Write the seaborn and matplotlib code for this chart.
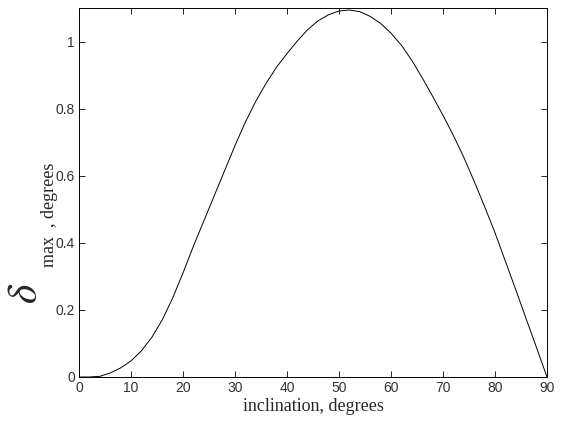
import numpy as np
import pandas as pd
import seaborn as sns
import matplotlib
matplotlib.use("Agg")
import matplotlib.pyplot as plt

# values
inclination = [0, 2, 4, 6, 8, 10, 12, 14, 16, 18, 20, 22, 24, 26, 28, 30,
               32, 34, 36, 38, 40, 42, 44, 46, 48, 50, 52, 54, 56, 58, 60,
               62, 64, 66, 68, 70, 72, 74, 76, 78, 80, 82, 84, 86, 88, 90]
delta_max = [0.0, 0.0, 0.002, 0.012, 0.027, 0.048, 0.078, 0.118, 0.17, 0.235,
             0.31, 0.39, 0.465, 0.54, 0.615, 0.69, 0.76, 0.822, 0.876, 0.924,
             0.964, 1.002, 1.036, 1.062, 1.08, 1.091, 1.094, 1.089, 1.075, 1.054,
             1.025, 0.989, 0.944, 0.892, 0.837, 0.78, 0.72, 0.655, 0.583, 0.508,
             0.43, 0.345, 0.26, 0.173, 0.087, 0.0]

xticks = [0, 10, 20, 30, 40, 50, 60, 70, 80, 90]
yticks = [0, 0.2, 0.4, 0.6, 0.8, 1.0]
ytick_labels = ["0", "0.2", "0.4", "0.6", "0.8", "1"]

df = pd.DataFrame({"inclination": inclination, "delta": delta_max})

sns.set_style("ticks")
plt.rcParams["mathtext.fontset"] = "stix"

fig = plt.figure(figsize=(5.62, 4.24), dpi=100)
ax = fig.add_axes([79 / 562, 1 - 377 / 424, 468 / 562, 369 / 424])

sns.lineplot(data=df, x="inclination", y="delta", color="black",
             linewidth=0.7, ax=ax)

ax.set_xlim(0, 90)
ax.set_ylim(0, 1.1)
ax.set_xticks(xticks)
ax.set_yticks(yticks)
ax.set_yticklabels(ytick_labels)
ax.tick_params(direction="in", length=4, width=0.6, top=True, right=True,
               labelsize=10, pad=3, colors="black")
for lab in ax.get_xticklabels() + ax.get_yticklabels():
    lab.set_family("Liberation Sans")
    lab.set_color("#333333")
for sp in ax.spines.values():
    sp.set_linewidth(0.7)
    sp.set_color("black")

ax.set_xlabel("inclination, degrees", family="Liberation Serif",
              fontsize=13, labelpad=2)
ax.set_ylabel("")

fig.text(25 / 562, 1 - 293 / 424, r"$\delta$", fontsize=30, rotation=90,
         ha="center", va="center")
fig.text(49 / 562, 1 - 215 / 424, "max  , degrees", family="Liberation Serif",
         fontsize=13, rotation=90, ha="center", va="center")

fig.savefig("out.png", dpi=100)
